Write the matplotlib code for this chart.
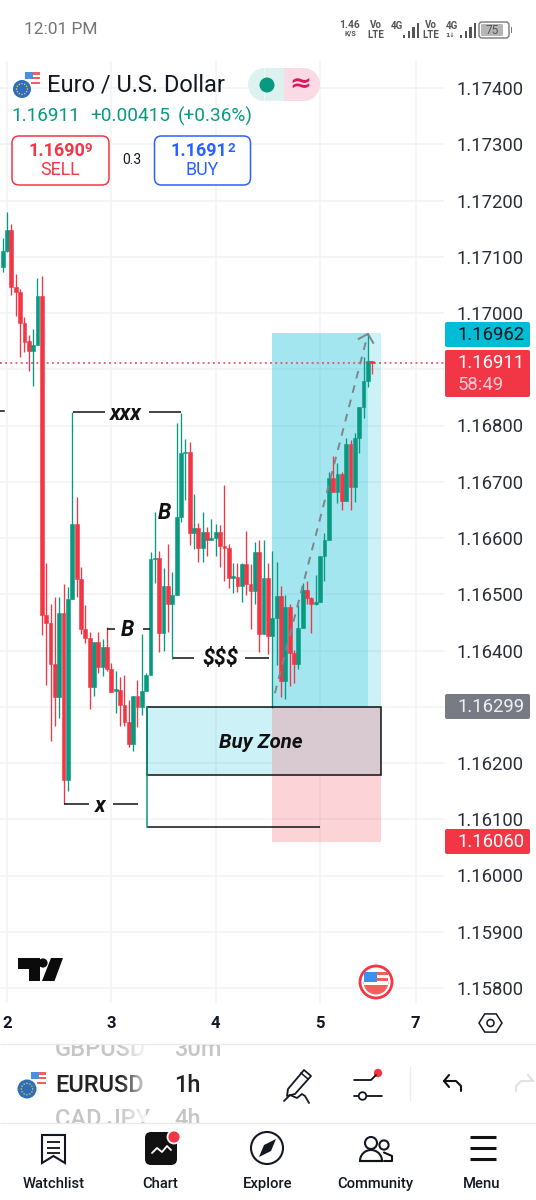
import numpy as np
import matplotlib
matplotlib.use('Agg')
import matplotlib.pyplot as plt
from matplotlib.patches import Rectangle, Circle, FancyBboxPatch, Polygon, Wedge

plt.rcParams['font.family'] = ['Roboto', 'DejaVu Sans']

# candles, in points above 1.16000
opens_pts = [1082, 1110, 1148, 1046, 1037, 982, 950, 932, 943, 1030,
             463, 449, 376, 317, 467, 170, 491, 625, 527, 438,
             422, 335, 415, 371, 406, 367, 328, 330, 303, 273,
             234, 319, 300, 328, 356, 563, 564, 431, 515, 483,
             499, 637, 751, 753, 609, 618, 582, 611, 596, 600,
             611, 586, 582, 529, 531, 515, 554, 518, 506, 575,
             429, 529, 426, 458, 497, 346, 477, 396, 376, 440,
             508, 493, 483, 486, 568, 596, 707, 682, 714, 666,
             767, 691, 778, 833, 879, 915]
closes_pts = [1110, 1148, 1046, 1037, 982, 948, 932, 943, 1030, 463,
              449, 376, 317, 467, 170, 491, 625, 527, 438, 422,
              335, 415, 371, 406, 367, 326, 332, 303, 273, 234,
              319, 300, 328, 356, 563, 564, 431, 515, 483, 499,
              637, 751, 753, 609, 618, 582, 611, 596, 600, 611,
              586, 582, 529, 532, 515, 554, 518, 506, 575, 429,
              529, 426, 458, 497, 346, 477, 396, 376, 440, 508,
              493, 483, 486, 568, 596, 707, 682, 714, 666, 767,
              691, 778, 833, 879, 915, 911]
highs_pts = [1133, 1180, 1158, 1069, 1043, 993, 961, 972, 1062, 1066,
             555, 483, 495, 495, 518, 513, 824, 673, 548, 481,
             433, 415, 433, 420, 442, 378, 364, 353, 356, 312,
             319, 348, 429, 360, 575, 646, 577, 547, 589, 540,
             804, 822, 776, 771, 678, 627, 646, 620, 634, 625,
             623, 694, 589, 555, 555, 555, 612, 554, 593, 596,
             596, 555, 577, 557, 515, 499, 483, 401, 481, 520,
             524, 495, 534, 568, 609, 717, 746, 733, 717, 778,
             774, 787, 833, 922, 964, 915]
lows_pts = [1073, 1108, 1032, 995, 922, 931, 897, 870, 943, 428,
            339, 239, 266, 280, 127, 150, 491, 495, 429, 413,
            296, 319, 360, 355, 364, 326, 289, 266, 266, 228,
            221, 264, 285, 328, 356, 520, 397, 399, 433, 385,
            499, 628, 668, 587, 580, 557, 557, 568, 596, 568,
            548, 524, 511, 502, 504, 486, 499, 438, 483, 397,
            429, 394, 298, 374, 317, 314, 337, 342, 367, 440,
            483, 431, 481, 486, 524, 596, 682, 662, 650, 666,
            650, 664, 751, 813, 868, 892]

price_ticks = [1.174, 1.173, 1.172, 1.171, 1.170, 1.169, 1.168, 1.167, 1.166,
               1.165, 1.164, 1.163, 1.162, 1.161, 1.160, 1.159, 1.158]
# these two sit behind the price badges in the app, so no label is shown
hidden_ticks = [1.169, 1.163]
day_ticks = [1, 25, 49, 73, 95]
day_labels = ['2', '3', '4', '5', '7']

last_price = 1.16911
target_price = 1.16962
entry_price = 1.16299
stop_price = 1.16060
zone_low = 1.16179

GREEN = '#089981'
RED = '#F23645'
GRID = '#F2F3F4'

o = 1.16 + np.array(opens_pts) / 1e5
c = 1.16 + np.array(closes_pts) / 1e5
h = 1.16 + np.array(highs_pts) / 1e5
l = 1.16 + np.array(lows_pts) / 1e5
idx = np.arange(len(o))
colors = [GREEN if c[i] >= o[i] else RED for i in idx]

fig = plt.figure(figsize=(5.36, 12), dpi=100, facecolor='white')

# chart area, pixels 0-444 across and 61-1003 down
ax = fig.add_axes([0, (1200 - 1003) / 1200, 444 / 536, (1003 - 61) / 1200])
ax.set_xlim(-0.62, 101.5)
ax.set_ylim(1.174 - (1003 - 88) / 56250, 1.174 + (88 - 61) / 56250)
for s in ax.spines.values():
    s.set_visible(False)
ax.yaxis.tick_right()
ax.set_yticks(price_ticks)
ax.set_yticklabels(['' if p in hidden_ticks else f'{p:.5f}' for p in price_ticks], fontsize=13.3, color='#2A2E39')
ax.set_xticks(day_ticks)
ax.set_xticklabels(day_labels, fontsize=12, fontweight='bold', color='#131722')
ax.tick_params(axis='both', length=0)
ax.tick_params(axis='y', pad=8.8)
ax.tick_params(axis='x', pad=9.2)
ax.grid(True, color=GRID, lw=1.2)
ax.set_axisbelow(True)

# long position box
ax.add_patch(Rectangle((61.94, entry_price), 22.06, target_price - entry_price + 0.00002, fc='#00BCD4', alpha=0.36, ec='none', zorder=1))
ax.add_patch(Rectangle((84, entry_price), 3.06, target_price - entry_price + 0.00002, fc='#00BCD4', alpha=0.2, ec='none', zorder=1))
ax.add_patch(Rectangle((61.94, stop_price), 25.06, entry_price - stop_price, fc=RED, alpha=0.21, ec='none', zorder=1))

# buy zone
ax.add_patch(Rectangle((33.2, zone_low), 28.74, entry_price - zone_low, fc='#00BCD4', alpha=0.2, ec='none', zorder=1.5))
ax.add_patch(Rectangle((61.94, zone_low), 25.06, entry_price - zone_low, fc='#D6C8D0', alpha=0.9, ec='none', zorder=1.5))
ax.add_patch(Rectangle((33.2, zone_low), 53.8, entry_price - zone_low, fc='none', ec='#111111', lw=1.1, zorder=4))
ax.text(59.4, 1.16237, 'Buy Zone', fontsize=14.7, fontweight='bold', fontstyle='italic',
        ha='center', va='center', color='#111111', zorder=5)

# candles
ax.vlines(idx, l, h, colors=colors, lw=0.95, zorder=3)
ax.bar(idx, c - o, bottom=o, width=0.88, color=colors, edgecolor=colors, lw=0.4, zorder=3)

# last price
ax.plot([-0.62, 101.5], [last_price, last_price], color=RED, lw=1.1, dashes=(1.2, 2.2), zorder=3.5)

# hand drawn levels
seg = dict(color='#111111', lw=1.1, zorder=4, solid_capstyle='butt')
ax.plot([16.17, 23.5], [1.16824, 1.16824], **seg)
ax.plot([33.65, 41], [1.16824, 1.16824], **seg)
ax.plot([24.0, 25.8], [1.16438, 1.16438], **seg)
ax.plot([32.3, 33.9], [1.16438, 1.16438], **seg)
ax.plot([39.2, 44.0], [1.16387, 1.16387], **seg)
ax.plot([55.7, 61.2], [1.16387, 1.16387], **seg)
ax.plot([14.1, 19.85], [1.16127, 1.16127], **seg)
ax.plot([25.4, 31.1], [1.16127, 1.16127], **seg)
ax.plot([33.2, 73.0], [1.16086, 1.16086], **seg)
ax.plot([33.2, 33.2], [1.16086, entry_price], color=GREEN, lw=1.1, zorder=4)
ax.plot([-0.62, 0.3], [1.16825, 1.16825], color='#111111', lw=1.1, zorder=4)

txt = dict(fontweight='bold', fontstyle='italic', ha='center', va='center', color='#111111', zorder=5)
ax.text(28.4, 1.16821, 'xxx', fontsize=15.5, **txt)
ax.text(28.8, 1.16437, 'B', fontsize=15.5, **txt)
ax.text(37.1, 1.16645, 'B', fontsize=15.5, **txt)
ax.text(50, 1.16385, '$$$', fontsize=15.5, **txt)
ax.text(22.4, 1.16124, 'x', fontsize=15.5, **txt)

# projected path, dashed with arrow head
ax.plot([62.6, 84], [1.16324, 1.16963], color='#7E868C', lw=1.4, dashes=(4, 3.6), zorder=3.6)
ax.plot([81.9, 84, 85.2], [1.16954, 1.16963, 1.16947], color='#7E868C', lw=1.4, zorder=3.6)

# everything around the chart, pixel coordinates
ui = fig.add_axes([0, 0, 1, 1])
ui.set_xlim(0, 536)
ui.set_ylim(1200, 0)
ui.axis('off')
ui.patch.set_alpha(0)


def t(x, y, s, size, color='#111111', ha='left', va='center', **kw):
    return ui.text(x, y, s, fontsize=size, color=color, ha=ha, va=va, **kw)


def line(xs, ys, color='#111111', lw=1.4, **kw):
    ui.plot(xs, ys, color=color, lw=lw, solid_capstyle=kw.pop('cap', 'round'), **kw)


def rbox(x0, y0, x1, y1, r, fc='none', ec='none', lw=1.0, z=3):
    p = FancyBboxPatch((x0 + r, y0 + r), x1 - x0 - 2 * r, y1 - y0 - 2 * r,
                       boxstyle=f'round,pad={r},rounding_size={r}', fc=fc, ec=ec, lw=lw, zorder=z)
    ui.add_patch(p)


def flags(cx_eu, cy_eu, cx_us, cy_us, r_eu, r_us):
    # small US disc behind the EU disc
    ui.add_patch(Circle((cx_us, cy_us), r_us, fc='white', ec='none', zorder=3))
    for dy in (-0.7, -0.1, 0.5):
        ui.add_patch(Rectangle((cx_us - r_us * 0.1, cy_us + dy * r_us), r_us * 1.05, r_us * 0.28, fc='#F0605F', ec='none', zorder=3.1))
    ui.add_patch(Rectangle((cx_us - r_us * 0.85, cy_us - r_us * 0.8), r_us * 0.95, r_us * 0.95, fc='#4A90E2', ec='none', zorder=3.2))
    ui.add_patch(Circle((cx_eu, cy_eu), r_eu + 1, fc='white', ec='none', zorder=3.3))
    ui.add_patch(Circle((cx_eu, cy_eu), r_eu, fc='#2F6DB8', ec='none', zorder=3.4))
    for a in np.arange(0, 360, 30):
        ui.add_patch(Circle((cx_eu + 0.6 * r_eu * np.cos(np.radians(a)), cy_eu + 0.6 * r_eu * np.sin(np.radians(a))), 0.7, fc='#F7D74A', ec='none', zorder=3.5))


# status bar
t(24, 30, '12:01 PM', 12.5, '#757575')
t(350, 25, '1.46', 7.4, '#555555', ha='center', fontweight='bold')
t(350, 34, 'K/S', 5.2, '#555555', ha='center', fontweight='bold')
t(376, 25, 'Vo', 7, '#555555', ha='center', fontweight='bold')
t(376, 34.5, 'LTE', 7, '#555555', ha='center', fontweight='bold')
t(397, 26, '4G', 7, '#555555', ha='center', fontweight='bold')
t(431, 25, 'Vo', 7, '#555555', ha='center', fontweight='bold')
t(431, 34.5, 'LTE', 7, '#555555', ha='center', fontweight='bold')
t(452, 26, '4G', 7, '#555555', ha='center', fontweight='bold')
t(450, 35, '1↓', 4.5, '#555555', ha='center', fontweight='bold', family=['DejaVu Sans'])
for x0 in (403, 460):
    for i, bh in enumerate((3, 7, 11, 15)):
        ui.add_patch(Rectangle((x0 + i * 4.6, 37.5 - bh), 2.4, bh, fc='#555555', ec='none'))
rbox(479, 22, 509, 38, 3, fc='white', ec='#777777', lw=1.0)
rbox(481, 24, 503, 36, 1.5, fc='#B5B5B5')
t(492, 30, '75', 8.5, '#555555', ha='center', zorder=5)
ui.add_patch(Rectangle((510.5, 27), 1.5, 6, fc='#777777', ec='none'))

# symbol header
flags(22, 89, 32, 78, 9, 8)
t(47, 85, 'Euro / U.S. Dollar', 17, '#131722')
ui.add_patch(Wedge((264.5, 84.5), 16.5, 90, 270, fc='#DDF1EE', ec='none'))
ui.add_patch(Rectangle((264.5, 68), 19.5, 33, fc='#DDF1EE', ec='none'))
ui.add_patch(Wedge((303.5, 84.5), 16.5, 270, 90, fc='#F9DAE5', ec='none'))
ui.add_patch(Rectangle((284, 68), 19.5, 33, fc='#F9DAE5', ec='none'))
ui.add_patch(Circle((267, 85), 7.5, fc=GREEN, ec='none'))
t(300, 84, '≈', 19, '#D81B60', ha='center', fontweight='bold', family=['DejaVu Sans'])
t(11.5, 116, '1.16911', 13.7, GREEN)
t(90.5, 116, '+0.00415', 13.7, GREEN)
t(177.5, 116, '(+0.36%)', 13.7, GREEN)

# sell / buy
rbox(12, 136, 109, 185, 7, fc='white', ec=RED, lw=1.1)
rbox(154.5, 136, 250.5, 185, 7, fc='white', ec='#2962FF', lw=1.1)
t(28.5, 150.5, '1.1690', 13, RED, fontweight='bold', zorder=5)
t(84.5, 148, '9', 9.5, RED, fontweight='bold', zorder=5)
t(60, 170, 'SELL', 12.8, RED, ha='center', zorder=5)
t(131.5, 160.5, '0.3', 10, '#131722', ha='center')
t(170.5, 150.5, '1.1691', 13, '#2962FF', fontweight='bold', zorder=5)
t(227, 148, '2', 9.5, '#2962FF', fontweight='bold', zorder=5)
t(202, 170, 'BUY', 12.8, '#2962FF', ha='center', zorder=5)

# price badges
rbox(445, 322, 530, 347, 2, fc='#00BCD4')
t(457.4, 335, f'{target_price:.5f}', 13.3, '#131722', zorder=5)
rbox(445, 350, 530, 397, 2, fc=RED)
t(457.4, 363, f'{last_price:.5f}', 13.3, 'white', zorder=5)
t(457.4, 385, '58:49', 13.3, '#FCC9CF', zorder=5)
rbox(445, 694, 530, 719, 2, fc='#787B86')
t(457.4, 707, f'{entry_price:.5f}', 13.3, '#F0F0F2', zorder=5)
rbox(445, 829, 530, 854, 2, fc=RED)
t(457.4, 842, f'{stop_price:.5f}', 13.3, 'white', zorder=5)

# tradingview mark
ui.add_patch(Polygon([(18, 958), (40, 958), (40, 981), (29, 981), (29, 969), (18, 969)], fc='#0B0B0B', ec='none'))
ui.add_patch(Circle((43, 963), 4.6, fc='#0B0B0B', ec='none'))
ui.add_patch(Polygon([(51, 958), (63, 958), (54.5, 981), (42, 981)], fc='#0B0B0B', ec='none'))

# news flag
ui.add_patch(Circle((376, 982), 16, fc='white', ec=RED, lw=2))
ui.add_patch(Wedge((376, 982), 12.5, 0, 180, fc='#F0605F', ec='none'))
ui.add_patch(Rectangle((364, 972), 24, 8.5, fc='#F0605F', ec='none'))
ui.add_patch(Rectangle((364, 975), 24, 2.5, fc='white', ec='none'))
ui.add_patch(Rectangle((364, 972), 12.5, 9.5, fc='#3F8FEF', ec='none'))
ui.add_patch(Rectangle((364, 982), 24, 3, fc='white', ec='none'))

# settings hexagon
ang = np.radians(np.arange(0, 360, 60))
ui.add_patch(Polygon(np.c_[490.5 + 11.5 * np.cos(ang), 1023 + 10.5 * np.sin(ang)], fc='none', ec='#131722', lw=1.1))
ui.add_patch(Circle((490.5, 1023), 3.5, fc='none', ec='#131722', lw=1.1))

# symbol strip
line([0, 536], [1044, 1044], '#EBEBEB', 1.0, cap='butt')
line([0, 536], [1123, 1123], '#EBEBEB', 1.0, cap='butt')
clip_top = Rectangle((0, 1045), 536, 30, transform=ui.transData)
clip_bot = Rectangle((0, 1095), 536, 28, transform=ui.transData)
t(55, 1056, 'GBPUSD', 17, '#C6C6C6', va='baseline', fontweight='medium', clip_on=True).set_clip_path(clip_top)
t(174, 1056, '30m', 17, '#C6C6C6', va='baseline', fontweight='medium', clip_on=True).set_clip_path(clip_top)
t(55, 1126, 'CAD JPY', 17, '#C6C6C6', va='baseline', fontweight='medium', clip_on=True).set_clip_path(clip_bot)
t(174, 1126, '4h', 17, '#C6C6C6', va='baseline', fontweight='medium', clip_on=True).set_clip_path(clip_bot)
t(55, 1092, 'EURUSD', 17, '#222222', va='baseline', fontweight='medium')
fade = np.ones((1, 40, 4))
fade[0, :, 3] = np.linspace(0, 0.85, 40)
ui.imshow(fade, extent=(120, 146, 1045, 1122), aspect='auto', zorder=4)
ui.set_xlim(0, 536)
ui.set_ylim(1200, 0)
t(174, 1092, '1h', 17, '#222222', va='baseline', fontweight='medium')
flags(27, 1089, 38, 1078, 9.5, 8)

# pencil
ui.add_patch(Polygon([(288, 1089), (304, 1070), (311, 1076), (295, 1094), (287, 1096)], fc='white', ec='#131722', lw=1.3, joinstyle='round'))
line([301, 308], [1073, 1079], '#131722', 1.1)
line([284, 290, 297, 302, 305, 309], [1101, 1095, 1098, 1094, 1096, 1103], '#131722', 1.3)

# sliders
line([354, 371, 376], [1080, 1080, 1075], lw=1.3)
line([354, 358], [1096, 1096], lw=1.3)
line([367, 382], [1096, 1096], lw=1.3)
ui.add_patch(Circle((362.5, 1096), 3.8, fc='white', ec='#131722', lw=1.3))
ui.add_patch(Circle((378, 1073), 4.2, fc=RED, ec='none'))
line([410, 410], [1066, 1101], '#EDEDED', 1.0, cap='butt')

# undo / redo
line([461, 461, 456, 444], [1091, 1086, 1081, 1081], lw=1.5)
line([449, 444, 449], [1075, 1081, 1087], lw=1.5)
line([516, 516, 521, 533], [1091, 1086, 1081, 1081], '#E2E2E2', 1.5)
line([528, 533], [1075, 1081], '#E2E2E2', 1.5)

# bottom nav
ui.add_patch(Polygon([(42, 1135), (65, 1135), (65, 1163), (53.5, 1156), (42, 1163)], fc='none', ec='#131722', lw=1.5, joinstyle='miter'))
for y in (1142, 1147.5, 1153):
    line([47, 60], [y, y], lw=1.3, cap='butt')
rbox(145, 1132, 177, 1165, 6, fc='#111111')
line([152, 157, 162, 167, 171], [1153, 1148, 1152, 1146, 1150], 'white', 1.3, zorder=4)
ui.add_patch(Circle((174, 1137), 6.5, fc=RED, ec='white', lw=1.3, zorder=4))
ui.add_patch(Circle((267, 1148), 16, fc='none', ec='#131722', lw=1.5))
ui.add_patch(Polygon([(259, 1157), (264, 1145), (276, 1139), (271, 1151)], fc='#131722', ec='none'))
ui.add_patch(Circle((371, 1143), 6, fc='none', ec='#131722', lw=1.5))
ui.add_patch(Circle((384, 1145), 4.6, fc='none', ec='#131722', lw=1.5))
ui.add_patch(Wedge((371, 1161), 11, 180, 360, fc='none', ec='#131722', lw=1.5))
line([360, 382], [1161, 1161], lw=1.5)
line([384, 392, 392, 384], [1152.5, 1156, 1161, 1161], lw=1.5)
for y in (1137, 1148, 1159):
    line([470, 496], [y, y], lw=2.2, cap='butt')
nav_labels = ['Watchlist', 'Chart', 'Explore', 'Community', 'Menu']
nav_x = [54, 160, 268, 375, 482]
for x, s in zip(nav_x, nav_labels):
    t(x, 1184, s, 10.6, '#131722', ha='center', fontweight='medium')

fig.savefig('out.png', dpi=100)
